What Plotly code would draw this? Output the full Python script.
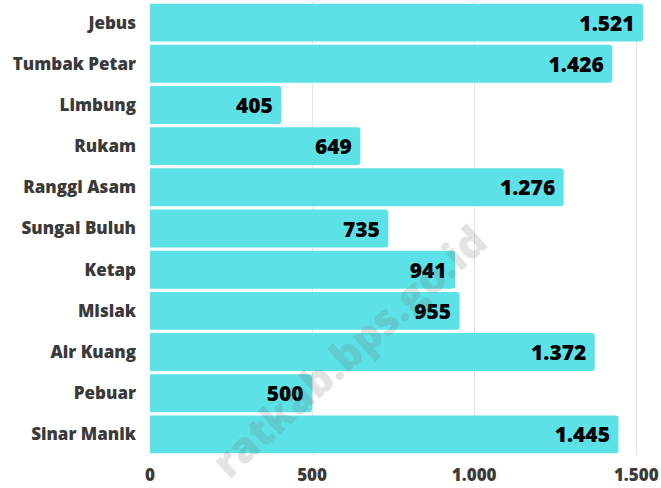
import plotly.graph_objects as go

categories = ["Jebus", "Tumbak Petar", "Limbung", "Rukam", "Ranggi Asam", "Sungai Buluh",
              "Ketap", "Mislak", "Air Kuang", "Pebuar", "Sinar Manik"]
values = [1521, 1426, 405, 649, 1276, 735, 941, 955, 1372, 500, 1445]
tick_vals = [0, 500, 1000, 1500]
tick_text = ["0", "500", "1.000", "1.500"]

def fmt(v):
    return f"{v:,}".replace(",", ".")

fig = go.Figure(go.Bar(
    y=categories, x=values, orientation="h",
    marker=dict(color="#5ce1e6", cornerradius=3, line=dict(width=0)),
    text=[fmt(v) + "\u00a0" for v in values], textposition="inside", insidetextanchor="end",
    textfont=dict(family="Open Sans", size=21, color="#000000", weight=800),
    cliponaxis=False,
))

fig.update_layout(
    width=661, height=488,
    margin=dict(l=150, r=15, t=2, b=30),
    paper_bgcolor="white", plot_bgcolor="white",
    bargap=0.08, showlegend=False,
    font=dict(family="Open Sans"),
    uniformtext=dict(minsize=8, mode=False),
)
fig.update_yaxes(autorange="reversed", ticks="", ticklabelstandoff=13,
                 tickfont=dict(family="Open Sans", size=17, color="#3a3a3a", weight=800),
                 showgrid=False, showline=False)
fig.update_xaxes(range=[0, 1530], tickvals=tick_vals, ticktext=tick_text,
                 showgrid=True, gridcolor="#e4e4e4", gridwidth=1, zeroline=False,
                 showline=False, ticks="", ticklabelstandoff=8,
                 tickfont=dict(family="Open Sans", size=17, color="#3a3a3a", weight=800))

fig.add_annotation(text="ratkab.bps.go.id", xref="paper", yref="paper",
                   x=0.40, y=0.23, xanchor="center", yanchor="middle",
                   showarrow=False, textangle=-42,
                   font=dict(family="Open Sans", size=42, color="rgba(110,110,110,0.2)", weight=800))

fig.write_html("out.html", config={"displayModeBar": False},
               post_script="document.body.style.margin='0';")
